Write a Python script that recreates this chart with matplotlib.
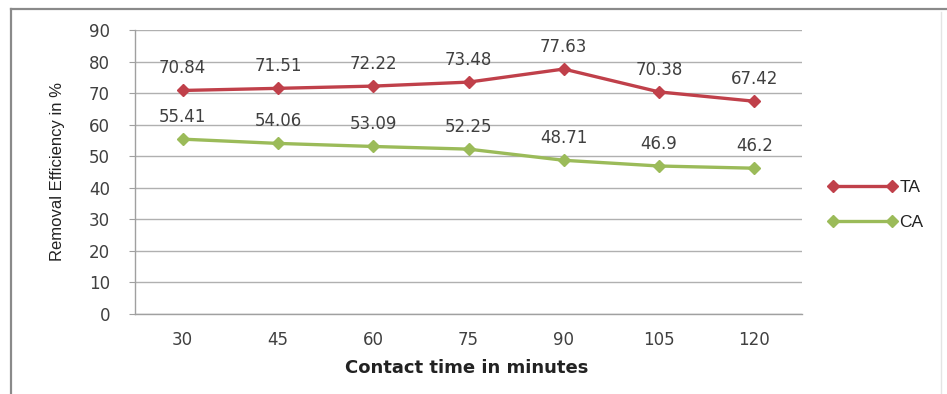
import matplotlib
matplotlib.use("Agg")
import matplotlib.pyplot as plt
from matplotlib.lines import Line2D

# Contact time (minutes) and removal efficiency (%) for the two adsorbents
contact_time = ["30", "45", "60", "75", "90", "105", "120"]
ta_values = [70.84, 71.51, 72.22, 73.48, 77.63, 70.38, 67.42]
ca_values = [55.41, 54.06, 53.09, 52.25, 48.71, 46.9, 46.2]
series_names = ["TA", "CA"]
y_ticks = [0, 10, 20, 30, 40, 50, 60, 70, 80, 90]

W, H, DPI = 947, 394, 100
fig = plt.figure(figsize=(W / DPI, H / DPI), dpi=DPI)
fig.patch.set_facecolor("white")

def fx(px):
    return px / W

def fy(py):
    return 1 - py / H

# outer chart frame
fig.add_artist(Line2D([fx(11), fx(11)], [fy(9), fy(400)], color="#8a8a8a", lw=1.6))
fig.add_artist(Line2D([fx(11), fx(947)], [fy(9), fy(9)], color="#8a8a8a", lw=1.6))
fig.add_artist(Line2D([fx(941), fx(941)], [fy(12), fy(400)], color="#e4e4e4", lw=1.0))

left, right, top, bottom = 135, 802, 30, 314
ax = fig.add_axes([fx(left), fy(bottom), fx(right - left), (bottom - top) / H])

x = list(range(len(contact_time)))
red = "#c0404a"
green = "#9bbb59"
ax.plot(x, ta_values, color=red, lw=2.4, marker="D", ms=6.5, mec=red, mfc=red,
        label=series_names[0], zorder=3)
ax.plot(x, ca_values, color=green, lw=2.4, marker="D", ms=6.5, mec=green, mfc=green,
        label=series_names[1], zorder=3)

label_color = "#404040"
for xi, v in zip(x, ta_values):
    ax.annotate(f"{v:g}", (xi, v), xytext=(0, 16), textcoords="offset points",
                ha="center", va="center", fontsize=12, color=label_color)
for xi, v in zip(x, ca_values):
    ax.annotate(f"{v:g}", (xi, v), xytext=(0, 16), textcoords="offset points",
                ha="center", va="center", fontsize=12, color=label_color)

ax.set_xlim(-0.5, len(contact_time) - 0.5)
ax.set_ylim(0, 90)
ax.set_yticks(y_ticks)
ax.set_yticklabels([str(t) for t in y_ticks])
ax.set_xticks(x)
ax.set_xticklabels(contact_time)
ax.yaxis.grid(True, color="#b0b0b0", lw=1.0)
ax.set_axisbelow(True)
for side in ("top", "right"):
    ax.spines[side].set_visible(False)
for side in ("left", "bottom"):
    ax.spines[side].set_color("#a0a0a0")
    ax.spines[side].set_linewidth(1.0)

ax.tick_params(axis="y", length=4, color="#a0a0a0", pad=14, labelsize=12,
               labelcolor=label_color)
ax.tick_params(axis="x", length=0, pad=12, labelsize=12, labelcolor=label_color)

ax.set_xlabel("Contact time in minutes", fontsize=13, fontweight="bold",
              color="#222222")
ax.xaxis.set_label_coords(0.498, -0.19)
ax.xaxis.label.set_va("center")
ax.set_ylabel("Removal Efficiency in %", fontsize=12,
              family=["Liberation Sans Narrow", "Liberation Sans", "DejaVu Sans"],
              color="#222222")
ax.yaxis.set_label_coords(-0.116, 0.5)
ax.yaxis.label.set_va("center")

leg = fig.legend(loc="center left", bbox_to_anchor=(fx(828), fy(205)), frameon=False,
                 numpoints=2, handlelength=4.0, handletextpad=0.1,
                 labelspacing=1.1, borderpad=0, borderaxespad=0,
                 prop={"family": ["Liberation Sans", "DejaVu Sans"], "size": 12.5})
for t in leg.get_texts():
    t.set_color("#222222")

fig.savefig("out.png", dpi=DPI)
